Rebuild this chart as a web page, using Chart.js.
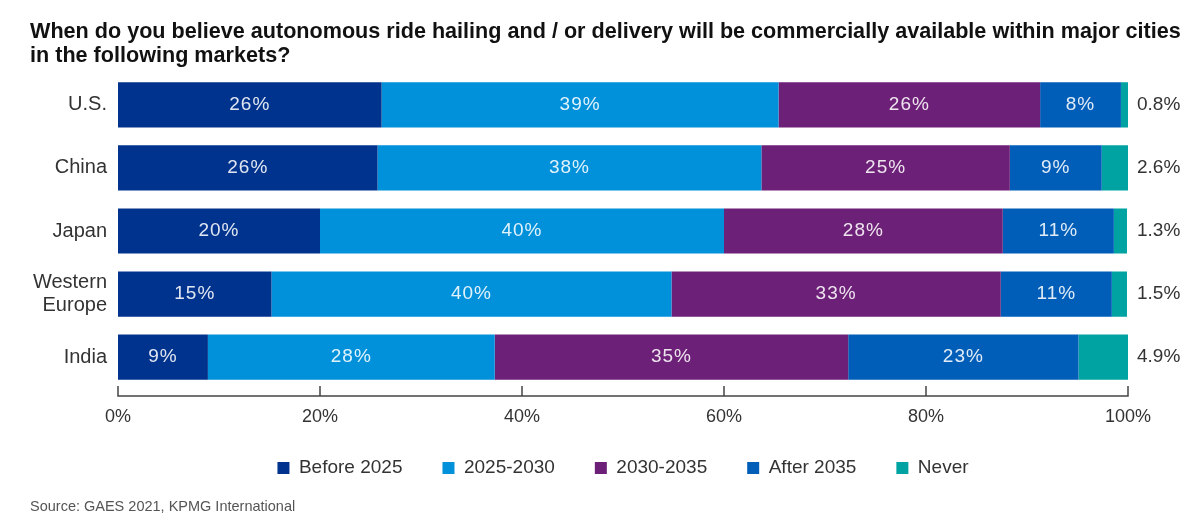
<!DOCTYPE html>
<html>
<head>
<meta charset="utf-8">
<script src="https://cdn.jsdelivr.net/npm/chart.js@4"></script>
<style>
  body { margin: 0; background: #fff; }
  #wrap { width: 1204px; height: 529px; position: relative; }
</style>
</head>
<body>
<div id="wrap"><canvas id="myChart"></canvas></div>
<script>
const markets = ['U.S.', 'China', 'Japan', ['Western', 'Europe'], 'India'];
const seriesNames = ['Before 2025', '2025-2030', '2030-2035', 'After 2035', 'Never'];
const before2025 = [26.1, 25.7, 20.0, 15.2, 8.9];
const y2025to2030 = [39.3, 38.0, 40.0, 39.6, 28.4];
const y2030to2035 = [25.9, 24.6, 27.6, 32.6, 35.0];
const after2035 = [8.0, 9.1, 11.0, 11.0, 22.8];
const never = [0.8, 2.6, 1.3, 1.5, 4.9];
const xTicks = [0, 20, 40, 60, 80, 100];

const colores = ['#00338D', '#0091DA', '#6D2077', '#005EB8', '#00A3A1'];
const FONTE = "'Liberation Sans', Arial, sans-serif";

// eixo x desenhado a mao: linha um pouco abaixo das barras, tracos para cima
const eixoPlugin = {
  id: 'eixo',
  afterLayout(chart) {
    // caixa do eixo x fica baixa p/ legenda subir, mas sem cortar os rotulos
    const sx = chart.scales.x;
    sx.bottom = sx.top + 45;
  },
  afterDraw(chart) {
    const c = chart.ctx;
    const sx = chart.scales.x;
    const y0 = chart.chartArea.bottom + 7.5;
    c.save();
    c.strokeStyle = '#444';
    c.lineWidth = 1.5;
    c.beginPath();
    c.moveTo(sx.left, y0);
    c.lineTo(sx.right, y0);
    xTicks.forEach(v => {
      const px = sx.getPixelForValue(v);
      c.moveTo(px, y0 + 0.75);
      c.lineTo(px, y0 - 10);
    });
    c.stroke();
    c.restore();
  }
};

// rotulos de valor dentro das barras (menos "Never", que vai no eixo da direita)
const rotulosPlugin = {
  id: 'rotulos',
  afterDatasetsDraw(chart) {
    const c = chart.ctx;
    const n = chart.data.datasets.length;
    c.save();
    c.font = '19px ' + FONTE;
    c.letterSpacing = '1px';
    c.textBaseline = 'middle';
    c.textAlign = 'center';
    c.fillStyle = 'rgba(255,255,255,0.88)';
    chart.data.datasets.forEach((ds, i) => {
      if (i === n - 1) return;
      const meta = chart.getDatasetMeta(i);
      meta.data.forEach((bar, j) => {
        c.fillText(Math.round(ds.data[j]) + '%', (bar.x + bar.base) / 2, bar.y);
      });
    });
    c.restore();
  }
};

const valores = [before2025, y2025to2030, y2030to2035, after2035, never];

const chart = new Chart(document.getElementById('myChart'), {
  type: 'bar',
  data: {
    labels: markets,
    datasets: valores.map((d, i) => ({
      label: seriesNames[i],
      data: d,
      backgroundColor: colores[i],
      borderWidth: 0,
      barPercentage: 0.717,
      categoryPercentage: 1
    }))
  },
  options: {
    indexAxis: 'y',
    responsive: true,
    maintainAspectRatio: false,
    animation: false,
    layout: { padding: { left: 30, right: 0, top: 0, bottom: 0 } },
    scales: {
      x: {
        stacked: true,
        min: 0,
        max: 100,
        afterBuildTicks: s => { s.ticks = xTicks.map(v => ({ value: v })); },
        afterFit: s => { s.height = 30; },
        grid: { display: false, drawTicks: false },
        border: { display: false },
        ticks: {
          padding: 18,
          color: '#333',
          font: { family: FONTE, size: 18 },
          callback: v => v + '%'
        }
      },
      y: {
        stacked: true,
        afterFit: s => { s.width = 88; },
        grid: { display: false, drawTicks: false },
        border: { display: false },
        ticks: {
          padding: 11,
          color: '#333',
          font: { family: FONTE, size: 20, lineHeight: 1.15 }
        }
      },
      yNever: {
        type: 'category',
        position: 'right',
        labels: never.map(v => v.toFixed(1) + '%'),
        offset: true,
        afterFit: s => { s.width = 76; },
        grid: { display: false, drawTicks: false },
        border: { display: false },
        ticks: {
          padding: 9,
          color: '#333',
          font: { family: FONTE, size: 19 }
        }
      }
    },
    plugins: {
      title: {
        display: true,
        text: ['When do you believe autonomous ride hailing and / or delivery will be commercially available within major cities',
               'in the following markets?'],
        align: 'start',
        color: '#111',
        font: { family: FONTE, size: 21.6, weight: 'bold', lineHeight: 1.12 },
        padding: { top: 20, bottom: 5 }
      },
      subtitle: {
        display: true,
        position: 'bottom',
        align: 'start',
        text: 'Source: GAES 2021, KPMG International',
        color: '#555',
        font: { family: FONTE, size: 14.5 },
        padding: { top: 11, bottom: 13 }
      },
      legend: {
        position: 'bottom',
        fullSize: false,
        labels: {
          boxWidth: 12,
          boxHeight: 12,
          padding: 40,
          color: '#333',
          font: { family: FONTE, size: 19 }
        }
      },
      tooltip: { enabled: false }
    }
  },
  plugins: [eixoPlugin, rotulosPlugin]
});
</script>
</body>
</html>
